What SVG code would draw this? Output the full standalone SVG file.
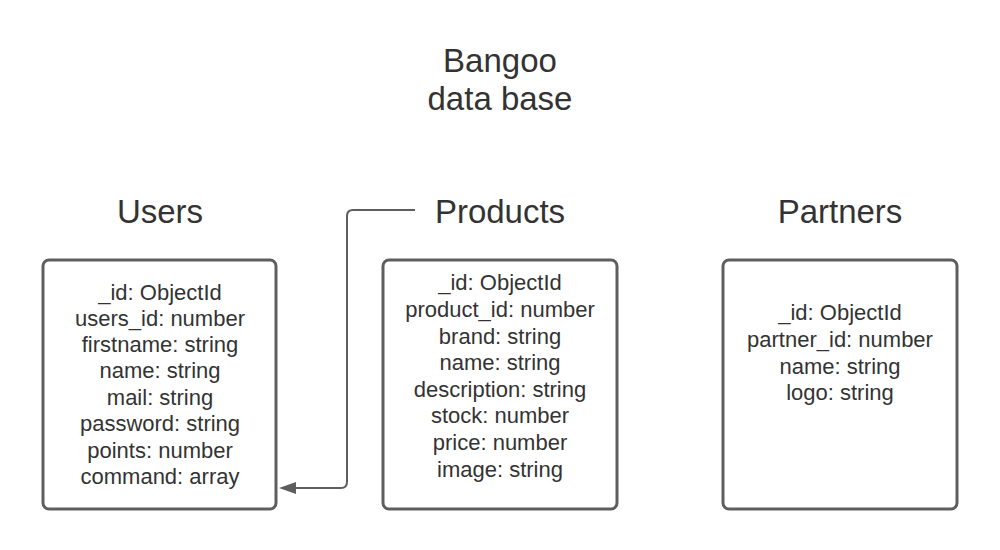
<svg xmlns="http://www.w3.org/2000/svg" width="1000" height="550" viewBox="0 0 1000 550">
<style>
.box{fill:#fff;stroke:#5e5e5e;stroke-width:3}
.t{font-family:"Liberation Sans",Arial,sans-serif;fill:#333;text-anchor:middle}
.h{font-size:33px}
.f{font-size:22px}
.c{fill:none;stroke:#5e5e5e;stroke-width:2}
</style>
<rect width="1000" height="550" fill="#fff"/>
<g id="title">
<text class="t h" x="500" y="72">Bangoo</text>
<text class="t h" x="500" y="110">data base</text>
</g>
<g id="users">
<text class="t h" x="160" y="223">Users</text>
<rect class="box" x="43" y="260" width="233" height="249" rx="6"/>
<text class="t f" x="160" y="300">_id: ObjectId</text>
<text class="t f" x="160" y="326">users_id: number</text>
<text class="t f" x="160" y="352">firstname: string</text>
<text class="t f" x="160" y="378">name: string</text>
<text class="t f" x="160" y="405">mail: string</text>
<text class="t f" x="160" y="431">password: string</text>
<text class="t f" x="160" y="458">points: number</text>
<text class="t f" x="160" y="484">command: array</text>
</g>
<g id="products">
<text class="t h" x="500" y="223">Products</text>
<rect class="box" x="383" y="260" width="234" height="249" rx="6"/>
<text class="t f" x="500" y="290">_id: ObjectId</text>
<text class="t f" x="500" y="317">product_id: number</text>
<text class="t f" x="500" y="344">brand: string</text>
<text class="t f" x="500" y="370">name: string</text>
<text class="t f" x="500" y="397">description: string</text>
<text class="t f" x="500" y="423">stock: number</text>
<text class="t f" x="500" y="450">price: number</text>
<text class="t f" x="500" y="477">image: string</text>
</g>
<g id="partners">
<text class="t h" x="840" y="223">Partners</text>
<rect class="box" x="723" y="260" width="234" height="249" rx="6"/>
<text class="t f" x="840" y="320">_id: ObjectId</text>
<text class="t f" x="840" y="347">partner_id: number</text>
<text class="t f" x="840" y="374">name: string</text>
<text class="t f" x="840" y="400">logo: string</text>
</g>
<g id="connectors">
<path class="c" d="M415,210 H353 Q347,210 347,216 V482 Q347,488 341,488 H296"/>
<path d="M296,482 L279,488 L296,494 z" fill="#5e5e5e"/>
</g>
</svg>
